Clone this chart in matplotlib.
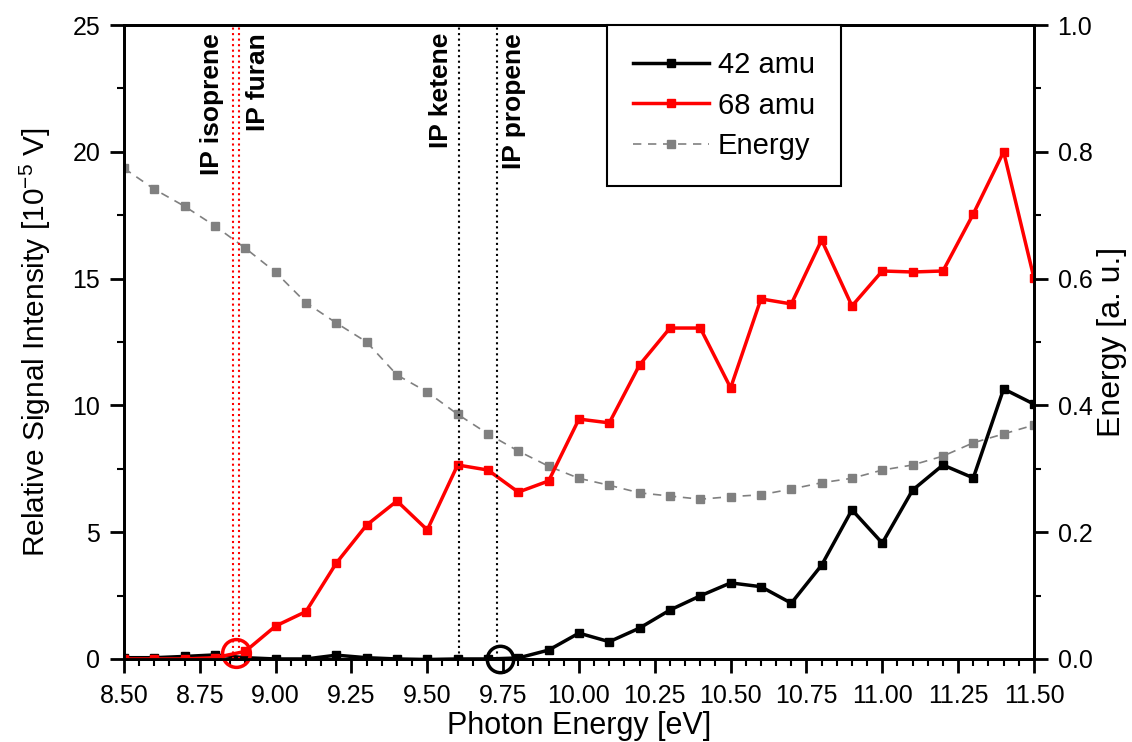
import numpy as np
import matplotlib.pyplot as plt

plt.rcParams['font.family'] = ['Liberation Sans', 'DejaVu Sans']

# Photon energy grid (eV)
photon_energy = np.round(np.arange(8.5, 11.51, 0.1), 2)

# 42 amu signal (10^-5 V)
signal_42 = [0.05, 0.05, 0.1, 0.16, 0.05, 0.0, 0.0, 0.15, 0.05, 0.0,
             -0.02, 0.0, 0.0, 0.04, 0.35, 1.02, 0.68, 1.22, 1.93, 2.49,
             3.0, 2.85, 2.2, 3.7, 5.88, 4.57, 6.66, 7.65, 7.14, 10.65, 10.05]

# 68 amu signal (10^-5 V)
signal_68 = [0.0, 0.0, 0.0, 0.05, 0.3, 1.3, 1.87, 3.78, 5.28, 6.23,
             5.09, 7.65, 7.45, 6.58, 7.02, 9.46, 9.31, 11.6, 13.05, 13.05,
             10.69, 14.2, 14.0, 16.52, 13.92, 15.3, 15.26, 15.3, 17.55, 20.0, 15.02]

# Photon pulse energy (a. u.)
pulse_energy = [0.774, 0.741, 0.714, 0.683, 0.648, 0.610, 0.562, 0.530, 0.500, 0.448,
                0.421, 0.386, 0.355, 0.328, 0.304, 0.285, 0.274, 0.262, 0.257, 0.252,
                0.256, 0.259, 0.268, 0.278, 0.285, 0.298, 0.306, 0.320, 0.341, 0.355, 0.369]

# ionisation potentials (eV)
ip_names = ["IP isoprene", "IP furan", "IP ketene", "IP propene"]
ip_values = [8.86, 8.88, 9.605, 9.73]
ip_colors = ["red", "red", "black", "black"]
ip_label_x = [8.79, 8.942, 9.545, 9.786]

fig = plt.figure(figsize=(11.32, 7.42), dpi=100)
ax = fig.add_axes([0.1095, 0.1119, 0.8039, 0.8544])
ax2 = ax.twinx()

ax2.plot(photon_energy, pulse_energy, color="#808080", ls=(0, (5, 4)), lw=1.2,
         marker="s", ms=6, label="Energy")
ax.plot(photon_energy, signal_42, color="black", lw=2.5, marker="s", ms=6, label="42 amu")
ax.plot(photon_energy, signal_68, color="red", lw=2.5, marker="s", ms=6, label="68 amu")

for xv, c in zip(ip_values, ip_colors):
    ax.axvline(xv, color=c, ls=":", lw=1.5)
for name, lx in zip(ip_names, ip_label_x):
    ax.text(lx, 24.68, name, rotation=90, ha="center", va="top",
            fontsize=19, fontweight="bold")

# onset markers
ax.plot([8.87], [0.25], marker="o", ms=20, mfc="none", mec="red", mew=2.5, clip_on=False)
ax.plot([9.74], [0.0], marker="o", ms=19, mfc="none", mec="black", mew=2.5, clip_on=False)

ax.set_xlim(8.5, 11.5)
ax.set_ylim(0, 25)
ax2.set_ylim(0, 1.0)

ax.set_xticks(np.arange(8.5, 11.51, 0.25))
ax.set_xticklabels([f"{v:.2f}" for v in np.arange(8.5, 11.51, 0.25)])
ax.set_xticks(np.arange(8.5, 11.51, 0.05), minor=True)
ax.set_yticks(np.arange(0, 26, 5))
ax.set_yticks(np.arange(0, 26, 2.5), minor=True)
ax2.set_yticks(np.arange(0, 1.01, 0.2))
ax2.set_yticklabels([f"{v:.1f}" for v in np.arange(0, 1.01, 0.2)])
ax2.set_yticks(np.arange(0, 1.01, 0.1), minor=True)

ax.tick_params(axis="both", which="major", direction="out", length=10, width=2,
               labelsize=18, pad=7)
ax.tick_params(axis="x", which="major", pad=8)
ax.tick_params(axis="both", which="minor", direction="out", length=5, width=1.5)
ax.tick_params(axis="x", top=False, which="both")
ax2.tick_params(axis="y", which="major", direction="out", length=10, width=2,
                labelsize=18, pad=7)
ax2.tick_params(axis="y", which="minor", direction="out", length=5, width=1.5)

for a in (ax, ax2):
    for s in a.spines.values():
        s.set_linewidth(2)

ax.set_xlabel("Photon Energy [eV]", fontsize=22, labelpad=2)
ax.set_ylabel(r"Relative Signal Intensity [$\mathregular{10^{-5}}$ V]", fontsize=21.5, labelpad=14)
ax2.set_ylabel("Energy [a. u.]", fontsize=23, labelpad=3)

h1, l1 = ax.get_legend_handles_labels()
h2, l2 = ax2.get_legend_handles_labels()
leg = ax.legend(h1 + h2, l1 + l2, loc="upper left", bbox_to_anchor=(0.531, 1.0),
                borderaxespad=0, fontsize=21, frameon=True, fancybox=False, framealpha=1,
                edgecolor="black", handlelength=2.6, handletextpad=0.3,
                borderpad=0.9, labelspacing=0.42)
leg.get_frame().set_linewidth(1.5)
ax.set_zorder(ax2.get_zorder() + 1)
ax.patch.set_visible(False)

fig.savefig("out.png", dpi=100)
